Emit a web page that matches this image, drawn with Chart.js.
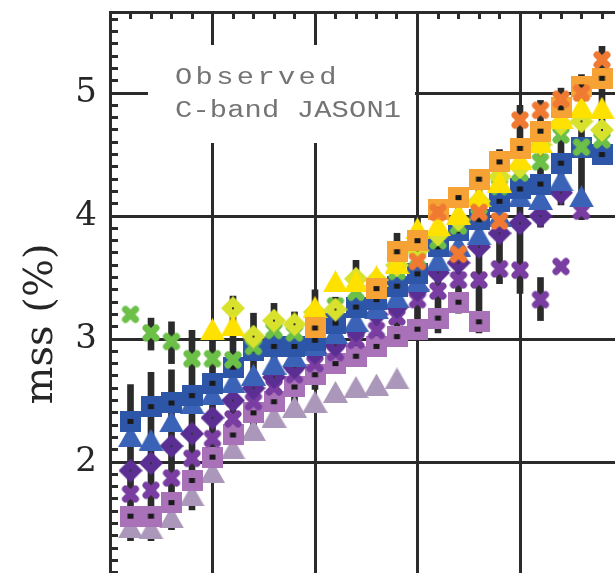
<!DOCTYPE html>
<html>
<head>
<meta charset="utf-8">
<script src="https://cdn.jsdelivr.net/npm/chart.js@4.4.1/dist/chart.umd.min.js"></script>
<style>
    html, body { margin: 0; padding: 0; background: #fff; overflow: hidden; }
    #wrap { position: absolute; left: 0; top: 0; width: 736px; height: 600px; }
</style>
</head>
<body>
<div id="wrap"><canvas id="mssChart" width="736" height="600"></canvas></div>
<script>
// bins along the x axis (its labels are cut off in the source figure)
const bins = [0.2, 0.4, 0.6, 0.8, 1.0, 1.2, 1.4, 1.6, 1.8, 2.0, 2.2, 2.4,
              2.6, 2.8, 3.0, 3.2, 3.4, 3.6, 3.8, 4.0, 4.2, 4.4, 4.6, 4.8];

// mss (%) per series, null = no point in that bin
const lightTri    = [1.47, 1.46, 1.55, 1.73, 1.92, 2.11, 2.26, 2.37, 2.45, 2.49, 2.57, 2.61, 2.63, 2.68, null, null, null, null, null, null, null, null, null, null];
const mauveSq     = [1.56, 1.56, 1.67, 1.85, 2.04, 2.22, 2.40, 2.49, 2.61, 2.71, 2.80, 2.86, 2.94, 3.02, 3.08, 3.17, 3.30, 3.14, null, null, null, null, null, null];
const purpleX     = [1.74, 1.77, 1.87, 2.03, 2.19, 2.35, 2.49, 2.61, 2.71, 2.80, 2.89, 2.99, 3.07, 3.18, 3.32, 3.39, 3.48, 3.48, 3.57, 3.56, 3.32, 3.59, 4.04, null];
const darkDiamond = [1.93, 1.99, 2.13, 2.23, 2.36, 2.50, 2.60, 2.69, 2.77, 2.89, 2.95, 3.07, 3.20, 3.26, 3.40, 3.54, 3.62, 3.75, 3.86, 3.94, 4.00, 4.19, null, null];
const blueTri     = [2.21, 2.18, 2.33, 2.48, 2.55, 2.65, 2.71, 2.80, 2.86, 2.95, 3.05, 3.15, 3.25, 3.34, 3.47, 3.64, 3.76, 3.85, 4.00, 4.16, 4.14, 4.29, 4.16, null];
const blueSq      = [2.33, 2.45, 2.48, 2.54, 2.64, 2.77, 2.91, 2.94, 2.94, 2.99, 3.13, 3.26, 3.32, 3.43, 3.53, 3.75, 3.88, 3.97, 4.12, 4.22, 4.26, 4.43, 4.56, 4.50];
const greenX      = [3.20, 3.05, 2.98, 2.84, 2.84, 2.83, 2.94, 3.07, 3.05, 3.17, 3.27, 3.38, 3.42, 3.55, 3.65, 3.80, 3.92, 4.08, 4.24, 4.35, 4.44, 4.66, 4.56, 4.62];
const ygDiamond   = [null, null, null, null, null, 3.25, 3.02, 3.15, 3.12, 3.22, 3.24, 3.49, 3.48, 3.60, 3.72, 3.85, 3.97, 4.12, 4.32, 4.40, 4.58, 4.75, 4.77, 4.70];
const yellowTri   = [null, null, null, null, 3.08, 3.11, null, null, null, 3.26, 3.47, 3.47, 3.51, 3.62, 3.90, 3.93, 4.02, 4.16, 4.28, 4.46, 4.60, 4.80, 4.89, 4.88];
const orangeSq    = [null, null, null, null, null, null, null, null, null, 3.09, null, null, 3.41, 3.71, 3.80, 4.05, 4.15, 4.30, 4.44, 4.55, 4.69, 4.88, 5.05, 5.12];
const orangeX     = [null, null, null, null, null, null, null, null, null, null, null, null, null, null, 3.63, 4.03, 3.69, 4.03, 3.96, 4.78, 4.86, 4.95, 5.00, 5.27];

// black error bars (low / high ends)
const errX  = [0.2, 0.4, 0.4, 0.6, 0.6, 0.8, 1.0, 1.2, 1.4, 1.6, 1.8, 2.0, 2.2, 2.4, 2.6, 2.8, 3.0, 3.2, 3.4, 3.6, 3.8, 4.0, 4.2, 4.2, 4.4, 4.6, 4.8];
const errLo = [1.36, 1.36, 2.91, 1.45, 2.80, 1.61, 1.88, 2.12, 2.21, 2.34, 2.45, 2.59, 2.72, 2.80, 2.88, 2.99, 3.05, 3.05, 3.21, 3.05, 3.45, 3.37, 3.91, 3.15, 4.09, 3.97, 4.54];
const errHi = [2.63, 2.73, 3.17, 2.75, 3.14, 3.07, 3.05, 3.35, 3.21, 3.29, 3.22, 3.40, 3.34, 3.64, 3.52, 3.86, 3.99, 4.13, 4.23, 4.31, 4.54, 4.90, 4.94, 3.50, 5.04, 5.15, 5.38];

const yTickLabels = [2, 3, 4, 5];
const boxLines = ['Observed', 'C-band JASON1'];

const INK = '#2b2b2b';

function isMajor(v) {
    return Math.abs(v - Math.round(v)) < 1e-6;
}

function points(vals) {
    return bins.map((x, i) => ({ x: x, y: vals[i] })).filter(p => p.y !== null);
}

// small canvases used as point styles (symbol + black centre dot)
function marker(shape, color) {
    const c = document.createElement('canvas');
    const g = c.getContext('2d');
    if (shape === 'square') {
        c.width = 21; c.height = 21;
        g.fillStyle = color;
        g.fillRect(0, 0, 21, 21);
        g.fillStyle = '#1a1a1a';
        g.fillRect(7.5, 8, 6, 5);
    } else if (shape === 'triangle') {
        c.width = 25; c.height = 22;
        g.fillStyle = color;
        g.beginPath();
        g.moveTo(12.5, 0); g.lineTo(25, 22); g.lineTo(0, 22);
        g.closePath(); g.fill();
    } else if (shape === 'diamond') {
        c.width = 24; c.height = 24;
        g.fillStyle = color;
        g.beginPath();
        g.moveTo(12, 0); g.lineTo(24, 12); g.lineTo(12, 24); g.lineTo(0, 12);
        g.closePath(); g.fill();
        g.fillStyle = '#333';
        g.fillRect(11, 11, 2, 2);
    } else {
        c.width = 20; c.height = 20;
        g.strokeStyle = color;
        g.lineWidth = 7;
        g.lineCap = 'round';
        g.beginPath();
        g.moveTo(5, 5); g.lineTo(15, 15);
        g.moveTo(15, 5); g.lineTo(5, 15);
        g.stroke();
    }
    return c;
}

// first entry is drawn on top
const series = [
    { vals: orangeX,     shape: 'x',        color: '#f07a32' },
    { vals: orangeSq,    shape: 'square',   color: '#f6a234' },
    { vals: yellowTri,   shape: 'triangle', color: '#ffe100' },
    { vals: ygDiamond,   shape: 'diamond',  color: '#d8e22c' },
    { vals: greenX,      shape: 'x',        color: '#6cbf47' },
    { vals: blueSq,      shape: 'square',   color: '#2e56a8' },
    { vals: blueTri,     shape: 'triangle', color: '#3a62b6' },
    { vals: darkDiamond, shape: 'diamond',  color: '#5a2e92' },
    { vals: purpleX,     shape: 'x',        color: '#7a3ea2' },
    { vals: mauveSq,     shape: 'square',   color: '#a871b8' },
    { vals: lightTri,    shape: 'triangle', color: '#ab97ba' }
];

const datasets = series.map(s => ({
    type: 'scatter',
    data: points(s.vals),
    pointStyle: marker(s.shape, s.color),
    pointRadius: 10,
    xAxisID: 'x',
    yAxisID: 'y',
    order: 0
}));

datasets.push({
    type: 'bar',
    data: errX.map((x, i) => ({ x: x, y: [errLo[i], errHi[i]] })),
    backgroundColor: INK,
    barThickness: 6,
    grouped: false,
    xAxisID: 'x',
    yAxisID: 'y',
    order: 1
});

// white patch behind the label text, then the text itself
const textBox = {
    id: 'textBox',
    beforeDatasetsDraw(chart) {
        const { ctx, chartArea } = chart;
        ctx.save();
        ctx.fillStyle = '#fff';
        ctx.fillRect(chartArea.left + 38, chartArea.top + 33, 267, 98);
        ctx.fillStyle = '#747474';
        ctx.font = '23px "Liberation Mono"';
        ctx.textBaseline = 'alphabetic';
        boxLines.forEach((line, k) => {
            const adv = k === 0 ? 20.6 : 17.4;
            [...line].forEach((ch, j) => {
                ctx.save();
                ctx.translate(chartArea.left + 65 + j * adv, chartArea.top + 72 + k * 33);
                ctx.scale(1.25, 1);
                ctx.fillText(ch, 0, 0);
                ctx.restore();
            });
        });
        ctx.restore();
    }
};

const minorTicks = { display: false, stepSize: 0.2, autoSkip: false, includeBounds: false, maxTicksLimit: 1000 };

new Chart(document.getElementById('mssChart'), {
    type: 'scatter',
    data: { datasets: datasets },
    options: {
        responsive: false,
        devicePixelRatio: 1,
        animation: false,
        layout: { padding: 0 },
        plugins: { legend: { display: false }, tooltip: { enabled: false } },
        scales: {
            x: {
                type: 'linear',
                position: 'bottom',
                min: 0,
                max: 6,
                offset: false,
                ticks: minorTicks,
                grid: {
                    offset: false,
                    color: ctx => isMajor(ctx.tick.value) ? INK : 'rgba(0,0,0,0)',
                    lineWidth: 3,
                    tickColor: INK,
                    tickWidth: 3,
                    tickLength: -7
                },
                border: { display: true, color: INK, width: 3 },
                afterFit: s => { s.height = 15; s.paddingLeft = 0; s.paddingRight = 0; }
            },
            x2: {
                type: 'linear',
                position: 'top',
                min: 0,
                max: 6,
                offset: false,
                ticks: minorTicks,
                grid: {
                    drawOnChartArea: false,
                    color: INK,
                    tickColor: INK,
                    tickWidth: 3,
                    tickLength: -7
                },
                border: { display: true, color: INK, width: 3 },
                afterFit: s => { s.height = 12; s.paddingLeft = 0; s.paddingRight = 0; }
            },
            y: {
                type: 'linear',
                position: 'left',
                min: 1,
                max: 5.659,
                ticks: {
                    stepSize: 0.1,
                    autoSkip: false,
                    includeBounds: false,
                    maxTicksLimit: 1000,
                    padding: 21,
                    color: '#262626',
                    font: { family: 'DejaVu Serif', size: 34 },
                    callback: v => (isMajor(v) && yTickLabels.includes(Math.round(v))) ? String(Math.round(v)) : ''
                },
                grid: {
                    color: ctx => isMajor(ctx.tick.value) ? INK : 'rgba(0,0,0,0)',
                    lineWidth: 3,
                    tickColor: INK,
                    tickWidth: 3,
                    tickLength: -8
                },
                border: { display: true, color: INK, width: 3 },
                title: {
                    display: true,
                    text: 'mss (%)    ',
                    color: '#262626',
                    font: { family: 'DejaVu Serif', size: 40 },
                    padding: { top: 18, bottom: 0 }
                },
                afterFit: s => { s.width = 110; s.paddingTop = 0; s.paddingBottom = 0; }
            }
        }
    },
    plugins: [textBox]
});
</script>
</body>
</html>
